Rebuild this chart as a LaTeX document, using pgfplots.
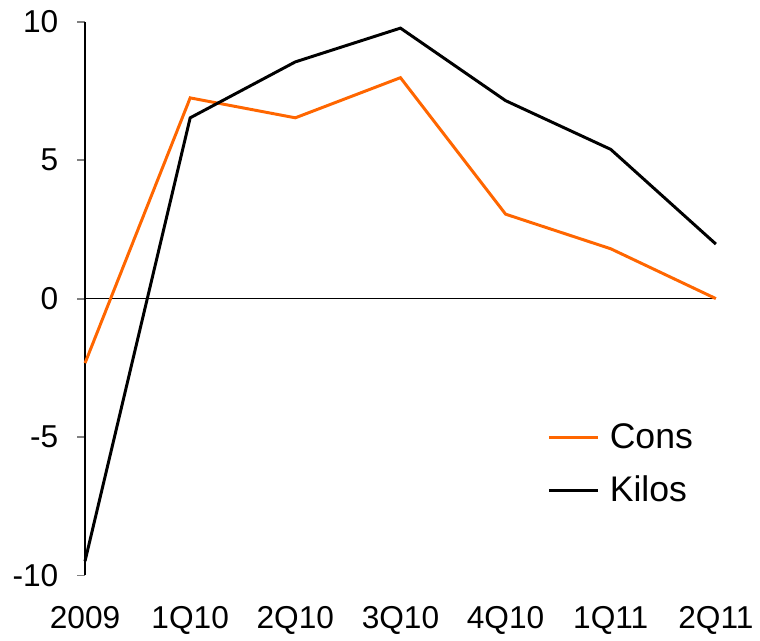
\documentclass[border=0pt]{standalone}
\usepackage{fontspec}
\setmainfont{Liberation Sans}
\usepackage{pgfplots}
\pgfplotsset{compat=1.18}
\definecolor{consorange}{HTML}{FF6600}
\begin{document}
\begin{tikzpicture}
\begin{axis}[
  scale only axis,
  width=319pt, height=280pt,
  xmin=0, xmax=6, ymin=-10, ymax=10,
  axis y line*=left,
  axis x line*=bottom,
  x axis line style={draw=none},
  xtick={0,1,2,3,4,5,6},
  xticklabels={2009,1Q10,2Q10,3Q10,4Q10,1Q11,2Q11},
  xtick style={draw=none},
  ytick={-10,-5,0,5,10},
  tick align=outside,
  major tick length=4pt,
  y axis line style={line width=0.9pt},
  ytick style={line width=0.9pt},
  yticklabel style={xshift=-6pt},
  xticklabel style={yshift=-8pt},
  tick label style={font=\fontsize{16}{19}\selectfont},
  /pgf/number format/assume math mode=true,
  clip=false,
  legend style={draw=none, fill=none, at={(0.723,0.29)}, anchor=north west,
    font=\fontsize{18}{21}\selectfont, row sep=8.5pt},
  legend cell align=left,
  legend image code/.code={\draw[#1] (0pt,0pt) -- (25pt,0pt); \path (28pt,0pt);},
]
\addplot[black, line width=0.6pt, forget plot] coordinates {(0,0) (6,0)};
\addplot[consorange, line width=1.5pt] coordinates {
(0,-2.33) (1,7.25) (2,6.53) (3,7.98) (4,3.05) (5,1.8) (6,0.0)};
\addlegendentry{Cons}
\addplot[black, line width=1.5pt] coordinates {
(0,-9.48) (1,6.53) (2,8.55) (3,9.77) (4,7.15) (5,5.39) (6,1.97)};
\addlegendentry{Kilos}
\path (rel axis cs:0,0) +(-43pt,-30.5pt) (rel axis cs:1,1) +(20pt,11pt);
\end{axis}
\end{tikzpicture}
\end{document}
